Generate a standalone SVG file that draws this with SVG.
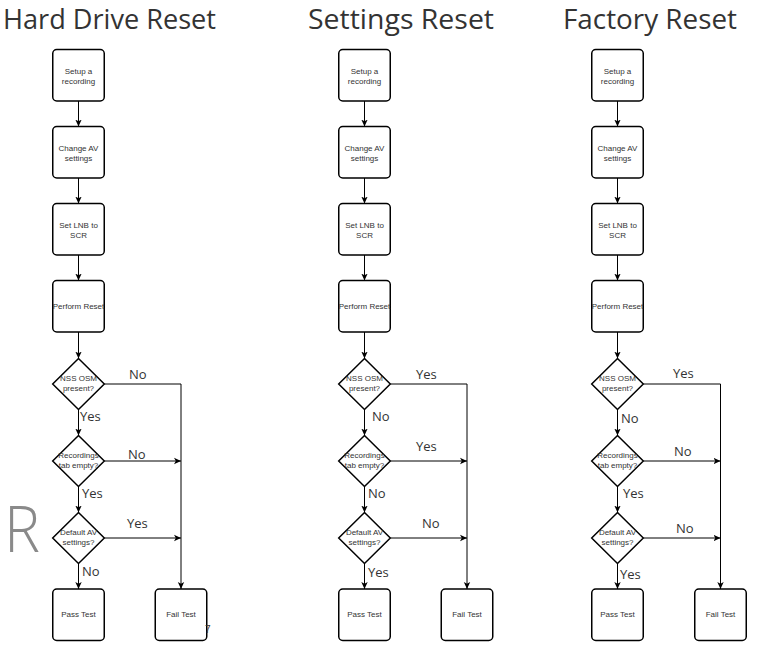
<svg xmlns="http://www.w3.org/2000/svg" width="760" height="651" viewBox="0 0 760 651">
<defs>
<style>
.box{fill:#fff;stroke:#000;stroke-width:1.5}
.t{font-family:"Liberation Sans",Arial,sans-serif;font-size:8px;fill:#333;text-anchor:middle}
.lbl{font-family:"Open Sans","Noto Sans",sans-serif;font-size:13px;fill:#333}
.title{font-family:"Open Sans","Noto Sans",sans-serif;font-size:26.5px;fill:#333}
.c{fill:none;stroke:#000;stroke-width:1}
</style>
<marker id="ah" markerUnits="userSpaceOnUse" markerWidth="8" markerHeight="8" viewBox="0 0 8 8" refX="7" refY="4" orient="auto">
<path d="M0,0.8 L7,4 L0,7.2 L1.8,4 Z" fill="#000"/>
</marker>
</defs>
<rect width="760" height="651" fill="#fff"/>

<g id="titles">
<text class="title" x="3" y="28.5" textLength="213" lengthAdjust="spacingAndGlyphs">Hard Drive Reset</text>
<text class="title" x="308" y="28.5" textLength="186" lengthAdjust="spacingAndGlyphs">Settings Reset</text>
<text class="title" x="563" y="28.5" textLength="174" lengthAdjust="spacingAndGlyphs">Factory Reset</text>
</g>

<g id="connectors">
<!-- column 1 -->
<path class="c" marker-end="url(#ah)" d="M78.5,101 V126.5"/>
<path class="c" marker-end="url(#ah)" d="M78.5,178 V203.5"/>
<path class="c" marker-end="url(#ah)" d="M78.5,255 V280.5"/>
<path class="c" marker-end="url(#ah)" d="M78.5,332 V358.5"/>
<path class="c" marker-end="url(#ah)" d="M78.5,409.5 V435.5"/>
<path class="c" marker-end="url(#ah)" d="M78.5,486.5 V512.5"/>
<path class="c" marker-end="url(#ah)" d="M78.5,563.5 V589"/>
<path class="c" marker-end="url(#ah)" d="M104.3,384 H181 V589"/>
<path class="c" marker-end="url(#ah)" d="M104.3,461 H181"/>
<path class="c" marker-end="url(#ah)" d="M104.3,538 H181"/>
<!-- column 2 -->
<path class="c" marker-end="url(#ah)" d="M364.5,101 V126.5"/>
<path class="c" marker-end="url(#ah)" d="M364.5,178 V203.5"/>
<path class="c" marker-end="url(#ah)" d="M364.5,255 V280.5"/>
<path class="c" marker-end="url(#ah)" d="M364.5,332 V358.5"/>
<path class="c" marker-end="url(#ah)" d="M364.5,409.5 V435.5"/>
<path class="c" marker-end="url(#ah)" d="M364.5,486.5 V512.5"/>
<path class="c" marker-end="url(#ah)" d="M364.5,563.5 V589"/>
<path class="c" marker-end="url(#ah)" d="M390.3,384 H467 V589"/>
<path class="c" marker-end="url(#ah)" d="M390.3,461 H467"/>
<path class="c" marker-end="url(#ah)" d="M390.3,538 H467"/>
<!-- column 3 -->
<path class="c" marker-end="url(#ah)" d="M617.5,101 V126.5"/>
<path class="c" marker-end="url(#ah)" d="M617.5,178 V203.5"/>
<path class="c" marker-end="url(#ah)" d="M617.5,255 V280.5"/>
<path class="c" marker-end="url(#ah)" d="M617.5,332 V358.5"/>
<path class="c" marker-end="url(#ah)" d="M617.5,409.5 V435.5"/>
<path class="c" marker-end="url(#ah)" d="M617.5,486.5 V512.5"/>
<path class="c" marker-end="url(#ah)" d="M617.5,563.5 V589"/>
<path class="c" marker-end="url(#ah)" d="M643.3,384 H720.5 V589"/>
<path class="c" marker-end="url(#ah)" d="M643.3,461 H720.5"/>
<path class="c" marker-end="url(#ah)" d="M643.3,538 H720.5"/>
</g>

<g id="labels">
<text class="lbl" x="129" y="379">No</text>
<text class="lbl" x="80" y="421">Yes</text>
<text class="lbl" x="128" y="459">No</text>
<text class="lbl" x="82" y="498">Yes</text>
<text class="lbl" x="127" y="528">Yes</text>
<text class="lbl" x="82" y="576">No</text>

<text class="lbl" x="416" y="379">Yes</text>
<text class="lbl" x="372" y="421">No</text>
<text class="lbl" x="416" y="451">Yes</text>
<text class="lbl" x="368" y="498">No</text>
<text class="lbl" x="422" y="528">No</text>
<text class="lbl" x="368" y="577">Yes</text>

<text class="lbl" x="673" y="378">Yes</text>
<text class="lbl" x="621" y="423">No</text>
<text class="lbl" x="674" y="456">No</text>
<text class="lbl" x="623" y="498">Yes</text>
<text class="lbl" x="676" y="533">No</text>
<text class="lbl" x="620" y="579">Yes</text>
</g>

<!-- Column 1: Hard Drive Reset -->
<g id="hd-setup"><rect class="box" x="52.75" y="49.5" width="51.5" height="51.5" rx="4"/><text class="t" x="78.5" y="73.5">Setup a</text><text class="t" x="78.5" y="83.5">recording</text></g>
<g id="hd-av"><rect class="box" x="52.75" y="126.5" width="51.5" height="51.5" rx="4"/><text class="t" x="78.5" y="150.5">Change AV</text><text class="t" x="78.5" y="160.5">settings</text></g>
<g id="hd-lnb"><rect class="box" x="52.75" y="203.5" width="51.5" height="51.5" rx="4"/><text class="t" x="78.5" y="227.5">Set LNB to</text><text class="t" x="78.5" y="237.5">SCR</text></g>
<g id="hd-reset"><rect class="box" x="52.75" y="280.5" width="51.5" height="51.5" rx="4"/><text class="t" x="78.5" y="309">Perform Reset</text></g>
<g id="hd-nss"><path class="box" d="M78.5,358.5 L104.3,384 L78.5,409.5 L52.7,384 Z"/><text class="t" x="78.5" y="381">NSS OSM</text><text class="t" x="78.5" y="391">present?</text></g>
<g id="hd-rec"><path class="box" d="M78.5,435.5 L104.3,461 L78.5,486.5 L52.7,461 Z"/><text class="t" x="78.5" y="458">Recordings</text><text class="t" x="78.5" y="468">tab empty?</text></g>
<g id="hd-def"><path class="box" d="M78.5,512.5 L104.3,538 L78.5,563.5 L52.7,538 Z"/><text class="t" x="78.5" y="535">Default AV</text><text class="t" x="78.5" y="545">settings?</text></g>
<g id="hd-pass"><rect class="box" x="52.75" y="589" width="51.5" height="51.5" rx="4"/><text class="t" x="78.5" y="617">Pass Test</text></g>
<g id="hd-fail"><rect class="box" x="155.25" y="589" width="51.5" height="51.5" rx="4"/><text class="t" x="181" y="617">Fail Test</text></g>

<!-- Column 2: Settings Reset -->
<g id="st-setup"><rect class="box" x="338.75" y="49.5" width="51.5" height="51.5" rx="4"/><text class="t" x="364.5" y="73.5">Setup a</text><text class="t" x="364.5" y="83.5">recording</text></g>
<g id="st-av"><rect class="box" x="338.75" y="126.5" width="51.5" height="51.5" rx="4"/><text class="t" x="364.5" y="150.5">Change AV</text><text class="t" x="364.5" y="160.5">settings</text></g>
<g id="st-lnb"><rect class="box" x="338.75" y="203.5" width="51.5" height="51.5" rx="4"/><text class="t" x="364.5" y="227.5">Set LNB to</text><text class="t" x="364.5" y="237.5">SCR</text></g>
<g id="st-reset"><rect class="box" x="338.75" y="280.5" width="51.5" height="51.5" rx="4"/><text class="t" x="364.5" y="309">Perform Reset</text></g>
<g id="st-nss"><path class="box" d="M364.5,358.5 L390.3,384 L364.5,409.5 L338.7,384 Z"/><text class="t" x="364.5" y="381">NSS OSM</text><text class="t" x="364.5" y="391">present?</text></g>
<g id="st-rec"><path class="box" d="M364.5,435.5 L390.3,461 L364.5,486.5 L338.7,461 Z"/><text class="t" x="364.5" y="458">Recordings</text><text class="t" x="364.5" y="468">tab empty?</text></g>
<g id="st-def"><path class="box" d="M364.5,512.5 L390.3,538 L364.5,563.5 L338.7,538 Z"/><text class="t" x="364.5" y="535">Default AV</text><text class="t" x="364.5" y="545">settings?</text></g>
<g id="st-pass"><rect class="box" x="338.75" y="589" width="51.5" height="51.5" rx="4"/><text class="t" x="364.5" y="617">Pass Test</text></g>
<g id="st-fail"><rect class="box" x="441.25" y="589" width="51.5" height="51.5" rx="4"/><text class="t" x="467" y="617">Fail Test</text></g>

<!-- Column 3: Factory Reset -->
<g id="fr-setup"><rect class="box" x="591.75" y="49.5" width="51.5" height="51.5" rx="4"/><text class="t" x="617.5" y="73.5">Setup a</text><text class="t" x="617.5" y="83.5">recording</text></g>
<g id="fr-av"><rect class="box" x="591.75" y="126.5" width="51.5" height="51.5" rx="4"/><text class="t" x="617.5" y="150.5">Change AV</text><text class="t" x="617.5" y="160.5">settings</text></g>
<g id="fr-lnb"><rect class="box" x="591.75" y="203.5" width="51.5" height="51.5" rx="4"/><text class="t" x="617.5" y="227.5">Set LNB to</text><text class="t" x="617.5" y="237.5">SCR</text></g>
<g id="fr-reset"><rect class="box" x="591.75" y="280.5" width="51.5" height="51.5" rx="4"/><text class="t" x="617.5" y="309">Perform Reset</text></g>
<g id="fr-nss"><path class="box" d="M617.5,358.5 L643.3,384 L617.5,409.5 L591.7,384 Z"/><text class="t" x="617.5" y="381">NSS OSM</text><text class="t" x="617.5" y="391">present?</text></g>
<g id="fr-rec"><path class="box" d="M617.5,435.5 L643.3,461 L617.5,486.5 L591.7,461 Z"/><text class="t" x="617.5" y="458">Recordings</text><text class="t" x="617.5" y="468">tab empty?</text></g>
<g id="fr-def"><path class="box" d="M617.5,512.5 L643.3,538 L617.5,563.5 L591.7,538 Z"/><text class="t" x="617.5" y="535">Default AV</text><text class="t" x="617.5" y="545">settings?</text></g>
<g id="fr-pass"><rect class="box" x="591.75" y="589" width="51.5" height="51.5" rx="4"/><text class="t" x="617.5" y="617">Pass Test</text></g>
<g id="fr-fail"><rect class="box" x="694.75" y="589" width="51.5" height="51.5" rx="4"/><text class="t" x="720.5" y="617">Fail Test</text></g>

<g id="artifacts">
<text x="4" y="552" font-family="Open Sans, Noto Sans, sans-serif" font-size="64" font-weight="300" fill="#8a8a8a" textLength="36" lengthAdjust="spacingAndGlyphs">R</text>
<text x="205" y="633" font-family="Liberation Sans, Arial, sans-serif" font-size="10" fill="#333">7</text>
</g>
</svg>
